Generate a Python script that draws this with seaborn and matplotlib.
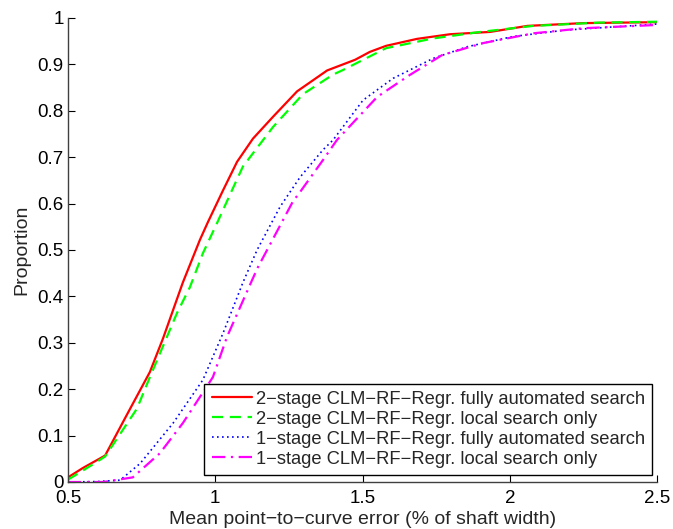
import matplotlib
matplotlib.use("Agg")
import matplotlib.pyplot as plt
import seaborn as sns
import pandas as pd

# Data
red_x = [0.5, 0.55, 0.626, 0.7, 0.778, 0.823, 0.89, 0.948, 0.975, 1.026, 1.074, 1.128, 1.196, 1.278, 1.38, 1.475, 1.525, 1.58, 1.685, 1.797, 1.933, 2.06, 2.25, 2.5]
red_y = [0.01, 0.03, 0.057, 0.145, 0.237, 0.31, 0.43, 0.522, 0.56, 0.628, 0.69, 0.74, 0.787, 0.842, 0.887, 0.91, 0.927, 0.94, 0.955, 0.965, 0.97, 0.983, 0.989, 0.991]

green_x = [0.5, 0.592, 0.626, 0.734, 0.778, 0.836, 0.87, 0.914, 0.958, 1.006, 1.057, 1.094, 1.196, 1.298, 1.4, 1.434, 1.58, 1.74, 1.9, 2.08, 2.3, 2.5]
green_y = [0.005, 0.041, 0.055, 0.158, 0.226, 0.313, 0.364, 0.42, 0.493, 0.558, 0.629, 0.68, 0.765, 0.836, 0.878, 0.888, 0.935, 0.956, 0.97, 0.983, 0.99, 0.992]

blue_x = [0.5, 0.6, 0.677, 0.745, 0.857, 0.958, 1.026, 1.094, 1.142, 1.22, 1.288, 1.366, 1.4, 1.502, 1.604, 1.74, 1.855, 2.01, 2.19, 2.5]
blue_y = [0.0, 0.001, 0.004, 0.04, 0.127, 0.22, 0.32, 0.43, 0.5, 0.593, 0.657, 0.716, 0.737, 0.823, 0.87, 0.913, 0.938, 0.96, 0.974, 0.987]

magenta_x = [0.5, 0.62, 0.72, 0.812, 0.89, 0.992, 1.04, 1.125, 1.145, 1.264, 1.288, 1.366, 1.413, 1.55, 1.66, 1.77, 1.91, 2.08, 2.25, 2.5]
magenta_y = [0.0, 0.0, 0.01, 0.062, 0.127, 0.226, 0.313, 0.435, 0.463, 0.605, 0.625, 0.694, 0.737, 0.83, 0.877, 0.92, 0.946, 0.967, 0.978, 0.985]

labels = [
    "2\u2212stage CLM\u2212RF\u2212Regr. fully automated search",
    "2\u2212stage CLM\u2212RF\u2212Regr. local search only",
    "1\u2212stage CLM\u2212RF\u2212Regr. fully automated search",
    "1\u2212stage CLM\u2212RF\u2212Regr. local search only",
]
x_ticks = [0.5, 1, 1.5, 2, 2.5]
x_tick_labels = ["0.5", "1", "1.5", "2", "2.5"]
y_ticks = [0, 0.1, 0.2, 0.3, 0.4, 0.5, 0.6, 0.7, 0.8, 0.9, 1]
y_tick_labels = ["0", "0.1", "0.2", "0.3", "0.4", "0.5", "0.6", "0.7", "0.8", "0.9", "1"]

sns.set_style("white")
plt.rcParams['font.family'] = ['Liberation Sans', 'DejaVu Sans']

fig = plt.figure(figsize=(6.73, 5.29), dpi=100)
ax = fig.add_axes([68/673, 47/529, 589/673, 464/529])

series = [
    (red_x, red_y, labels[0], "#ff0000", "-", 1.6),
    (green_x, green_y, labels[1], "#00ff00", (0, (5, 3)), 1.6),
    (blue_x, blue_y, labels[2], "#0000ff", (0, (1, 2)), 1.2),
    (magenta_x, magenta_y, labels[3], "#ff00ff", (0, (6, 2.5, 1, 2.5)), 1.6),
]
for xs, ys, lab, col, ls, lw in series:
    df = pd.DataFrame({"x": xs, "y": ys})
    sns.lineplot(data=df, x="x", y="y", ax=ax, color=col, label=lab,
                 linewidth=lw, sort=False)
    ax.lines[-1].set_linestyle(ls)

ax.set_xlim(0.5, 2.5)
ax.set_ylim(0, 1)
ax.set_xticks(x_ticks)
ax.set_xticklabels(x_tick_labels)
ax.set_yticks(y_ticks)
ax.set_yticklabels(y_tick_labels)
ax.tick_params(direction="in", length=5, width=0.8, labelsize=13.5, colors="#000000",
               bottom=True, left=True)
ax.tick_params(axis="x", pad=6)
ax.tick_params(axis="y", pad=3)
for s in ["top", "right"]:
    ax.spines[s].set_visible(False)
for s in ["left", "bottom"]:
    ax.spines[s].set_color("#404040")
    ax.spines[s].set_linewidth(1.0)
ax.set_xlabel("Mean point\u2212to\u2212curve error (% of shaft width)", fontsize=14, labelpad=3)
ax.set_ylabel("Proportion", fontsize=14, labelpad=5)

leg = ax.legend(loc="lower right", bbox_to_anchor=(0.992, 0.015), fontsize=13.2,
                frameon=True, fancybox=False, edgecolor="black", framealpha=1,
                handlelength=2.2, handletextpad=0.2, labelspacing=0.16,
                borderpad=0.4, borderaxespad=0)
leg.get_frame().set_linewidth(1.0)

fig.savefig("out.png", dpi=100)
